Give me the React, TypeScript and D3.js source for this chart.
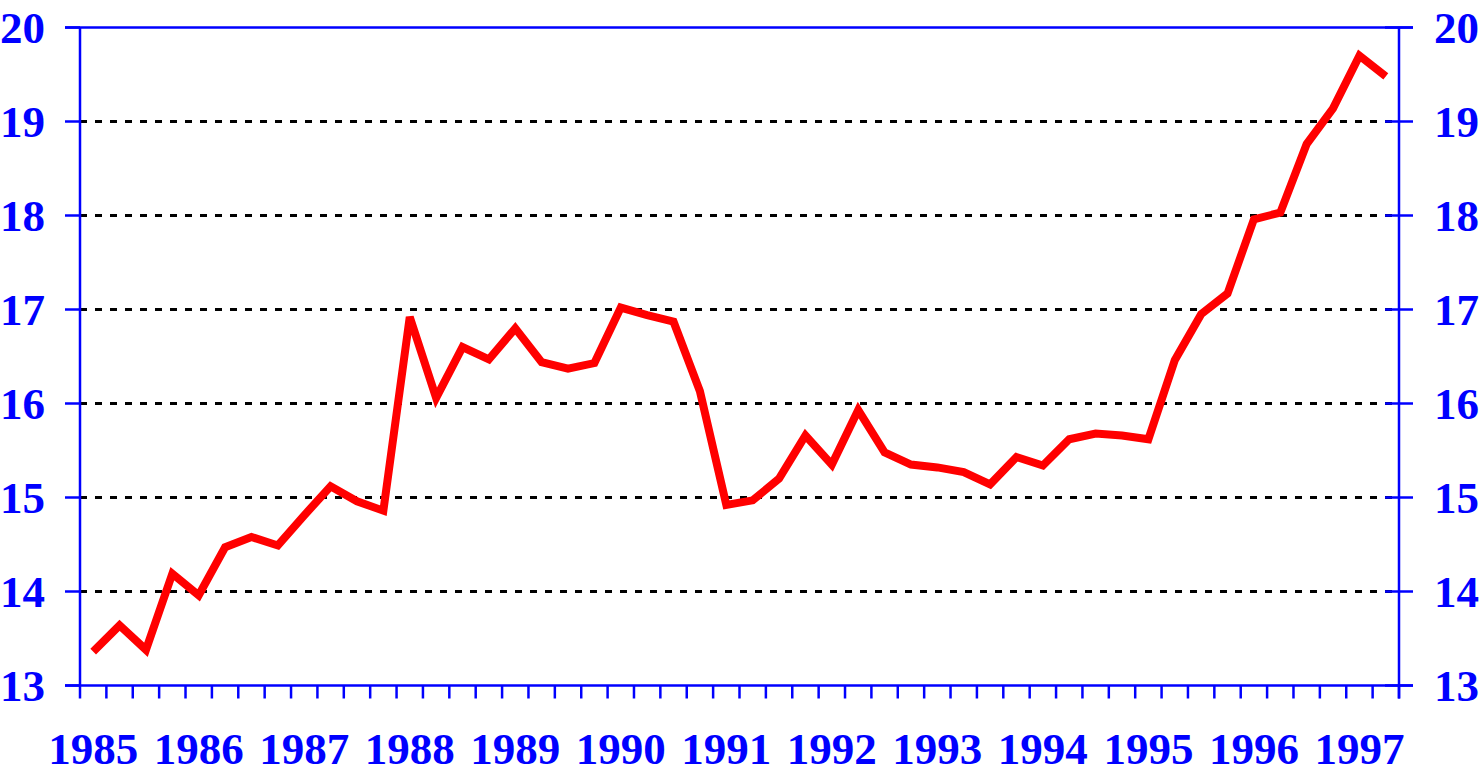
import React from 'react';
import { scaleLinear, line, range } from 'd3';

// quarterly values, 1985 Q1 .. 1997 Q2
const values = [
  13.36, 13.64, 13.38, 14.19, 13.96, 14.47, 14.58, 14.49,
  14.81, 15.12, 14.96, 14.86, 16.92, 16.06, 16.60, 16.47,
  16.80, 16.44, 16.37, 16.43, 17.02, 16.94, 16.87, 16.13,
  14.92, 14.97, 15.20, 15.66, 15.35, 15.93, 15.48, 15.35,
  15.32, 15.27, 15.14, 15.43, 15.34, 15.62, 15.68, 15.66,
  15.62, 16.46, 16.95, 17.17, 17.96, 18.03, 18.76, 19.14,
  19.70, 19.48,
];
const years = range(1985, 1998);
const yTicks = range(13, 21);
const gridValues = range(14, 20);

const W = 1480;
const H = 769;
const left = 80;
const right = 1399;
const top = 27.5;
const bottom = 685.5;
const blue = '#0000ff';
const font = '"Liberation Serif", "Times New Roman", serif';

export default function App() {
  const x = scaleLinear().domain([0, values.length]).range([left, right]);
  const y = scaleLinear().domain([13, 20]).range([bottom, top]);
  const path = line<number>()
    .x((_, i) => x(i + 0.5))
    .y((d) => y(d))(values);

  return (
    <svg width={W} height={H} style={{ position: 'absolute', left: 0, top: 0, background: '#fff' }}>
      {gridValues.map((v) => (
        <line key={'g' + v} x1={left} x2={right} y1={y(v)} y2={y(v)}
          stroke="#000" strokeWidth={3} strokeDasharray="7 8" />
      ))}
      {/* frame */}
      <line x1={left} x2={left} y1={top} y2={bottom} stroke={blue} strokeWidth={2.5} />
      <line x1={right} x2={right} y1={top} y2={bottom + 13} stroke={blue} strokeWidth={2.5} />
      <line x1={65} x2={1413} y1={y(20)} y2={y(20)} stroke={blue} strokeWidth={2.5} />
      <line x1={65} x2={1413} y1={y(13)} y2={y(13)} stroke={blue} strokeWidth={2.5} />
      {yTicks.map((v) => (
        <g key={'t' + v}>
          <line x1={65} x2={left} y1={y(v)} y2={y(v)} stroke={blue} strokeWidth={2.5} />
          <line x1={1385} x2={1413} y1={y(v)} y2={y(v)} stroke={blue} strokeWidth={2.5} />
          <text x={45} y={y(v) + 15.5} textAnchor="end" fill={blue}
            fontFamily={font} fontWeight="bold" fontSize={45}>{v}</text>
          <text x={1434} y={y(v) + 15.5} textAnchor="start" fill={blue}
            fontFamily={font} fontWeight="bold" fontSize={45}>{v}</text>
        </g>
      ))}
      {range(0, values.length + 1).map((i) => (
        <line key={'x' + i} x1={x(i)} x2={x(i)} y1={bottom} y2={bottom + 13}
          stroke={blue} strokeWidth={2.5} />
      ))}
      {years.map((yr, k) => (
        <text key={yr} x={x(k * 4 + 0.5)} y={764} textAnchor="middle" fill={blue}
          fontFamily={font} fontWeight="bold" fontSize={45}>{yr}</text>
      ))}
      <path d={path ?? ''} fill="none" stroke="#ff0000" strokeWidth={8} strokeLinejoin="miter" />
    </svg>
  );
}
